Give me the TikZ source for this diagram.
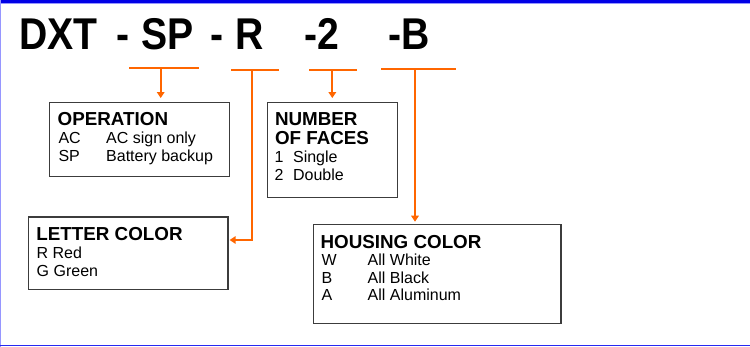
\documentclass[tikz,border=0pt]{standalone}
\usepackage{fontspec}
\setmainfont{Liberation Sans}
\newfontfamily\titlefont[FakeStretch=0.88]{Liberation Sans Bold}
\usetikzlibrary{arrows.meta}
\definecolor{conorange}{RGB}{255,102,0}
\definecolor{framedark}{RGB}{0,0,230}
\definecolor{framelight}{RGB}{150,150,255}
\definecolor{framebottom}{RGB}{40,40,240}
\definecolor{boxline}{RGB}{60,60,60}
\tikzset{
  box/.style={draw=boxline, line width=1.3pt, fill=white, inner sep=0pt, anchor=north west},
  heading/.style={anchor=base west, inner sep=0pt, font=\fontsize{18.8}{20}\selectfont\bfseries},
  body/.style={anchor=base west, inner sep=0pt, font=\fontsize{16}{18}\selectfont},
  titletext/.style={anchor=base west, inner sep=0pt, font=\titlefont\fontsize{44.5}{48}\selectfont},
  conn/.style={draw=conorange, line width=1.9pt},
  arr/.style={conn, -{Triangle[width=7.5pt,length=6pt]}},
}
\begin{document}
\begin{tikzpicture}[x=1pt,y=-1pt]
\useasboundingbox (0,0) rectangle (750,347);
% frame
\fill[framedark] (0,0) rectangle (750,2.6);
\draw[framelight, line width=1pt] (0,3.4) -- (750,3.4);
\draw[framelight, line width=1.2pt] (0.6,0) -- (0.6,347);
\draw[framebottom, line width=1.5pt] (0,345.6) -- (750,345.6);

% title
\node[titletext] (title) at (18.9,49.3) {\makebox[97.4pt][l]{DXT}\makebox[25.2pt][l]{-}\makebox[68.5pt][l]{SP}\makebox[25.2pt][l]{-}\makebox[69.1pt][l]{R}\makebox[84pt][l]{-2}-B};

% boxes
\node[box, minimum width=179.5pt, minimum height=74.3pt] (op) at (49,101.7) {};
\node[box, minimum width=130pt, minimum height=95pt] (nf) at (266.7,101.7) {};
\node[box, minimum width=199.6pt, minimum height=72.2pt] (lc) at (27.7,216.5) {};
\node[box, minimum width=247.7pt, minimum height=98.8pt] (hc) at (312.6,224) {};

% OPERATION
\node[heading] (op-h) at (57.5,126) {OPERATION};
\node[body] (op-1) at (58.3,144) {\makebox[47.7pt][l]{AC}AC sign only};
\node[body] (op-2) at (58.3,162) {\makebox[47.7pt][l]{SP}Battery backup};

% NUMBER OF FACES
\node[heading] (nf-h1) at (274.8,126) {NUMBER};
\node[heading] (nf-h2) at (274.8,145) {OF FACES};
\node[body] (nf-1) at (274.3,163) {\makebox[18.6pt][l]{1}Single};
\node[body] (nf-2) at (274.3,181) {\makebox[18.6pt][l]{2}Double};

% LETTER COLOR
\node[heading] (lc-h) at (36.2,240.5) {LETTER COLOR};
\node[body] (lc-1) at (36.5,259) {R Red};
\node[body] (lc-2) at (36.5,276.5) {G Green};

% HOUSING COLOR
\node[heading] (hc-h) at (320.4,248.3) {HOUSING COLOR};
\node[body] (hc-1) at (321.5,265.7) {\makebox[46pt][l]{W}All White};
\node[body] (hc-2) at (321.5,283.3) {\makebox[46pt][l]{B}All Black};
\node[body] (hc-3) at (321.5,301) {\makebox[46pt][l]{A}All Aluminum};

% connector bars
\coordinate (b1l) at (129.3,68.3); \coordinate (b1r) at (199.3,68.3); \coordinate (b1m) at (160.7,68.3);
\coordinate (b2l) at (231,69.8);   \coordinate (b2r) at (278.7,69.8); \coordinate (b2m) at (251.7,69.8);
\coordinate (b3l) at (309,69.8);   \coordinate (b3r) at (356.7,69.8); \coordinate (b3m) at (332.3,69.8);
\coordinate (b4l) at (381,69.2);   \coordinate (b4r) at (455.5,69.2); \coordinate (b4m) at (415,69.2);
\coordinate (k2) at (251.7,240);

\draw[conn] (b1l) -- (b1r);
\draw[conn] (b2l) -- (b2r);
\draw[conn] (b3l) -- (b3r);
\draw[conn] (b4l) -- (b4r);

\draw[arr, shorten >=3.6pt] (b1m) -- (b1m |- op.north);
\draw[arr, shorten >=1pt] (b2m) -- (k2) -- (k2 -| lc.east);
\draw[arr, shorten >=3.6pt] (b3m) -- (b3m |- nf.north);
\draw[arr, shorten >=2.3pt] (b4m) -- (b4m |- hc.north);
\end{tikzpicture}
\end{document}
